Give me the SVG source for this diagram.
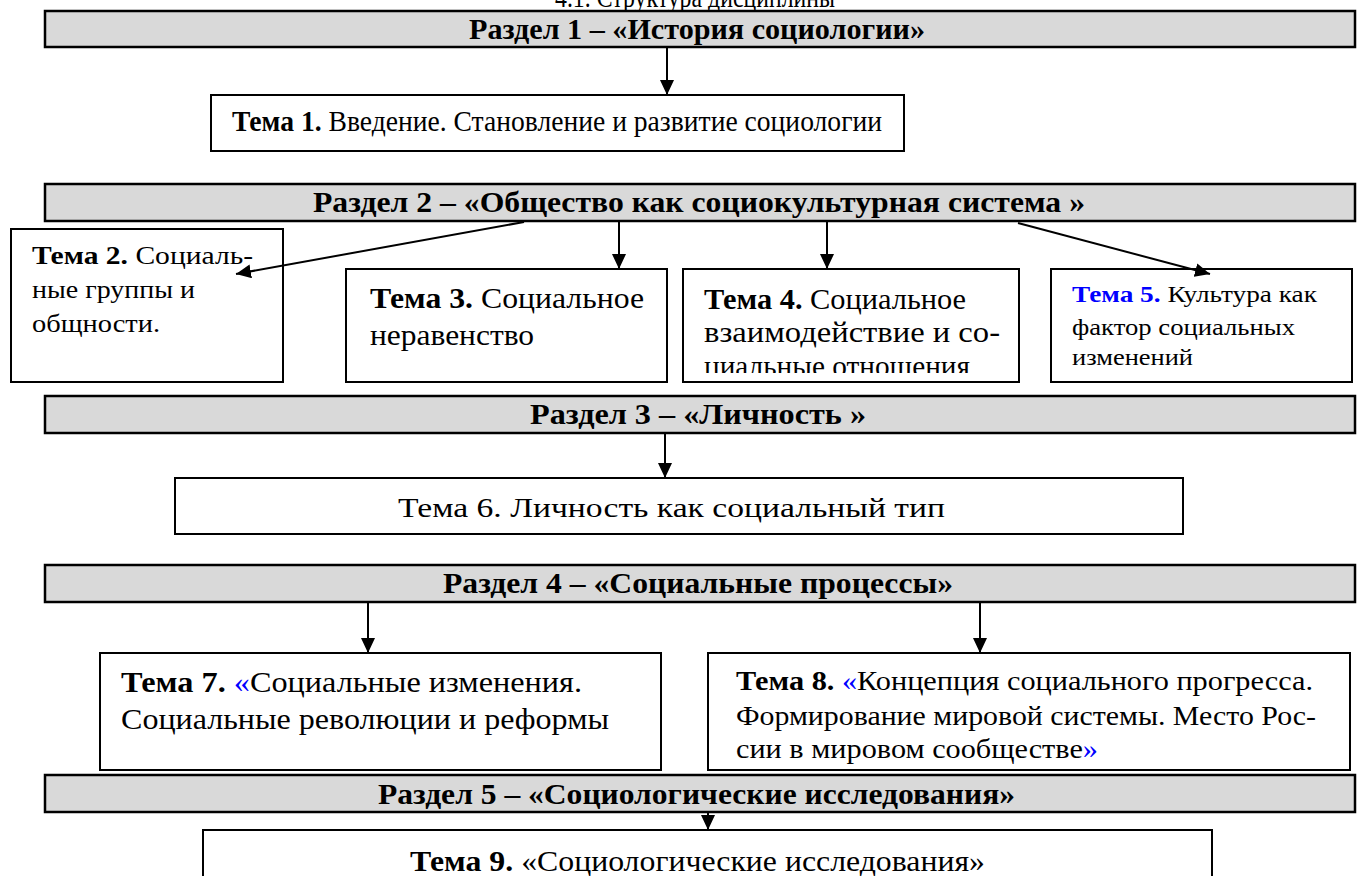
<svg xmlns="http://www.w3.org/2000/svg" width="1357" height="876" viewBox="0 0 1357 876">
<style>
text{font-family:"Liberation Serif","Times New Roman",serif;fill:#000}
.bar{fill:#d9d9d9;stroke:#000;stroke-width:2.5}
.box{fill:#fff;stroke:#000;stroke-width:2}
.bt{font-weight:bold;font-size:30px}
.b{font-weight:bold}
.blue{fill:#0000ff}
.con{stroke:#000;stroke-width:2;fill:none;marker-end:url(#ah)}
</style>
<defs>
<marker id="ah" markerUnits="userSpaceOnUse" markerWidth="16" markerHeight="14" refX="15" refY="7" orient="auto">
<path d="M0,0 L15,7 L0,14 z" fill="#000"/>
</marker>
<clipPath id="c4"><rect x="684" y="270" width="334" height="103"/></clipPath>
</defs>
<rect width="1357" height="876" fill="#fff"/>
<text x="555" y="7" font-size="29" textLength="280" lengthAdjust="spacingAndGlyphs">4.1. Структура дисциплины</text>

<g id="razdel1">
<rect class="bar" x="45" y="11" width="1310" height="36"/>
<text class="bt" x="469" y="39" textLength="456" lengthAdjust="spacingAndGlyphs">Раздел 1 – «История социологии»</text>
</g>
<g id="tema1">
<rect class="box" x="211" y="95" width="693" height="56"/>
<text x="232" y="131" font-size="29" textLength="650" lengthAdjust="spacingAndGlyphs"><tspan class="b">Тема 1.</tspan> Введение. Становление и развитие социологии</text>
</g>

<g id="razdel2">
<rect class="bar" x="45" y="184" width="1310" height="37"/>
<text class="bt" x="313" y="212" textLength="772" lengthAdjust="spacingAndGlyphs">Раздел 2 – «Общество как социокультурная система »</text>
</g>
<g id="tema2">
<rect class="box" x="11" y="229" width="272" height="153"/>
<text x="32" y="264" font-size="26" textLength="221" lengthAdjust="spacingAndGlyphs"><tspan class="b">Тема 2.</tspan> Социаль-</text>
<text x="32" y="298" font-size="26" textLength="163" lengthAdjust="spacingAndGlyphs">ные группы и</text>
<text x="32" y="332" font-size="26" textLength="128" lengthAdjust="spacingAndGlyphs">общности.</text>
</g>
<g id="tema3">
<rect class="box" x="346" y="269" width="321" height="113"/>
<text x="370" y="308" font-size="30" textLength="274" lengthAdjust="spacingAndGlyphs"><tspan class="b">Тема 3.</tspan> Социальное</text>
<text x="370" y="345" font-size="30" textLength="164" lengthAdjust="spacingAndGlyphs">неравенство</text>
</g>
<g id="tema4">
<rect class="box" x="683" y="269" width="336" height="113"/>
<text x="704" y="309" font-size="29" textLength="262" lengthAdjust="spacingAndGlyphs"><tspan class="b">Тема 4.</tspan> Социальное</text>
<text x="704" y="342" font-size="29" textLength="296" lengthAdjust="spacingAndGlyphs">взаимодействие и со-</text>
<text x="704" y="376" font-size="29" textLength="266" lengthAdjust="spacingAndGlyphs" clip-path="url(#c4)">циальные отношения</text>
</g>
<g id="tema5">
<rect class="box" x="1051" y="269" width="301" height="113"/>
<text x="1072" y="302" font-size="24" textLength="245" lengthAdjust="spacingAndGlyphs"><tspan class="b blue">Тема 5.</tspan> Культура как</text>
<text x="1072" y="335" font-size="24" textLength="223" lengthAdjust="spacingAndGlyphs">фактор социальных</text>
<text x="1072" y="365" font-size="24" textLength="121" lengthAdjust="spacingAndGlyphs">изменений</text>
</g>

<g id="razdel3">
<rect class="bar" x="45" y="396" width="1310" height="37"/>
<text class="bt" x="530" y="424" textLength="336" lengthAdjust="spacingAndGlyphs">Раздел 3 – «Личность »</text>
</g>
<g id="tema6">
<rect class="box" x="175" y="478" width="1008" height="56"/>
<text x="398" y="517" font-size="28" textLength="547" lengthAdjust="spacingAndGlyphs">Тема 6. Личность как социальный тип</text>
</g>

<g id="razdel4">
<rect class="bar" x="45" y="565" width="1310" height="37"/>
<text class="bt" x="443" y="593" textLength="510" lengthAdjust="spacingAndGlyphs">Раздел 4 – «Социальные процессы»</text>
</g>
<g id="tema7">
<rect class="box" x="100" y="653" width="561" height="117"/>
<text x="121" y="692" font-size="30" textLength="461" lengthAdjust="spacingAndGlyphs"><tspan class="b">Тема 7.</tspan> <tspan class="blue">«</tspan>Социальные изменения.</text>
<text x="121" y="729" font-size="30" textLength="488" lengthAdjust="spacingAndGlyphs">Социальные революции и реформы</text>
</g>
<g id="tema8">
<rect class="box" x="708" y="653" width="642" height="117"/>
<text x="736" y="690" font-size="27" textLength="577" lengthAdjust="spacingAndGlyphs"><tspan class="b">Тема 8.</tspan> <tspan class="blue">«</tspan>Концепция социального прогресса.</text>
<text x="736" y="725" font-size="27" textLength="580" lengthAdjust="spacingAndGlyphs">Формирование мировой системы. Место Рос-</text>
<text x="736" y="758" font-size="27" textLength="362" lengthAdjust="spacingAndGlyphs">сии в мировом сообществе<tspan class="blue">»</tspan></text>
</g>

<g id="razdel5">
<rect class="bar" x="45" y="775" width="1310" height="37"/>
<text class="bt" x="378" y="804" textLength="637" lengthAdjust="spacingAndGlyphs">Раздел 5 – «Социологические исследования»</text>
</g>
<g id="tema9">
<rect class="box" x="203" y="830" width="1009" height="60"/>
<text x="410" y="871" font-size="29" textLength="575" lengthAdjust="spacingAndGlyphs"><tspan class="b">Тема 9.</tspan> «Социологические исследования»</text>
</g>

<g id="connectors">
<line class="con" x1="667" y1="48" x2="667" y2="95"/>
<line class="con" x1="524" y1="222" x2="236" y2="274"/>
<line class="con" x1="619" y1="222" x2="619" y2="269"/>
<line class="con" x1="827" y1="222" x2="827" y2="269"/>
<line class="con" x1="1018" y1="223" x2="1210" y2="274"/>
<line class="con" x1="665" y1="434" x2="665" y2="478"/>
<line class="con" x1="368" y1="603" x2="368" y2="653"/>
<line class="con" x1="980" y1="603" x2="980" y2="653"/>
<line class="con" x1="708" y1="813" x2="708" y2="830"/>
</g>
</svg>
